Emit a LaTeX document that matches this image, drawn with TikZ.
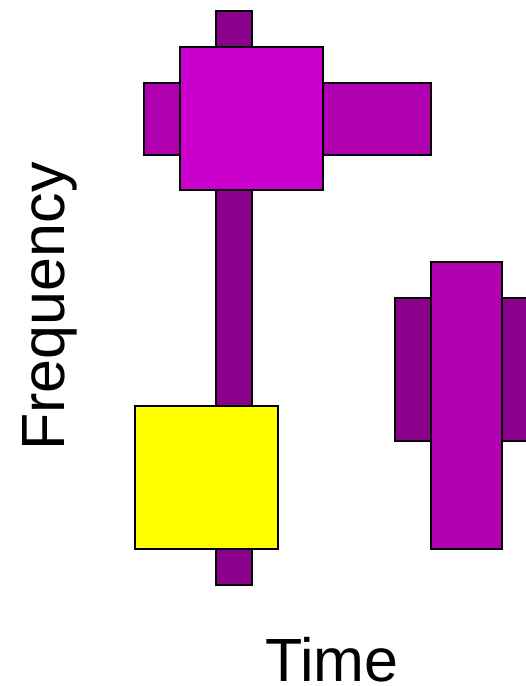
\documentclass[tikz,border=0pt]{standalone}
\usepackage{fontspec}
\setmainfont{Liberation Sans}
\definecolor{darkmag}{HTML}{8B008B}
\definecolor{midmag}{HTML}{B000B0}
\definecolor{brightmag}{HTML}{CC00CC}
\definecolor{yel}{HTML}{FFFF00}
\tikzset{
  blk/.style={draw=black, line width=1.5pt},
  lbl/.style={inner sep=0pt, font=\fontsize{61}{64}\selectfont}
}
\begin{document}
\begin{tikzpicture}[x=1pt,y=-1pt]
\useasboundingbox (0,0) rectangle (526,686);
\clip (0,0) rectangle (526,686);
% left group
\draw[blk, fill=darkmag] (216,11) rectangle (252,585);
\draw[blk, fill=midmag] (144,83) rectangle (431,155);
\draw[blk, fill=brightmag] (180,47) rectangle (323,190);
\draw[blk, fill=yel] (135,406) rectangle (278,549);
% right group
\draw[blk, fill=darkmag] (395,298) rectangle (540,441);
\draw[blk, fill=midmag] (431,262) rectangle (502,549);
% labels
\node[lbl, anchor=base, rotate=90] (freq) at (64.5,306.5) {Frequency};
\node[lbl, anchor=base] (time) at (332,681.5) {Time};
\end{tikzpicture}
\end{document}
